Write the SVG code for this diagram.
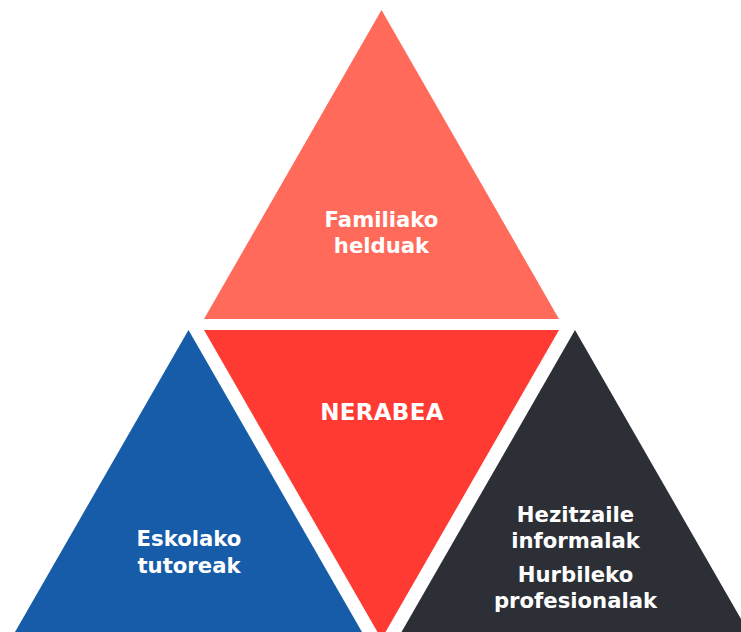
<svg xmlns="http://www.w3.org/2000/svg" width="741" height="632" viewBox="0 0 741 632">
<style>
.lbl{font-family:"DejaVu Sans",sans-serif;font-weight:bold;font-size:21.2px;fill:#ffffff;text-anchor:middle}
.big{font-size:23px;letter-spacing:0.3px}
</style>
<rect width="741" height="632" fill="#ffffff"/>
<g id="node-top">
<polygon points="381.5,10 559,319 204,319" fill="#ff6a5b"/>
<text class="lbl" x="381.5" y="226.7">Familiako</text>
<text class="lbl" x="381.5" y="253.3">helduak</text>
</g>
<g id="node-center">
<polygon points="204,330 559,330 381.5,639" fill="#ff3a32"/>
<text class="lbl big" x="382" y="420">NERABEA</text>
</g>
<g id="node-left">
<polygon points="188.5,330 366,639 11,639" fill="#175ca8"/>
<text class="lbl" x="189" y="546">Eskolako</text>
<text class="lbl" x="189" y="573.3">tutoreak</text>
</g>
<g id="node-right">
<polygon points="575,330 752.5,639 397.5,639" fill="#2c2f36"/>
<text class="lbl" x="575.5" y="521.7">Hezitzaile</text>
<text class="lbl" x="575.5" y="548.3">informalak</text>
<text class="lbl" x="575.5" y="582.3">Hurbileko</text>
<text class="lbl" x="575.5" y="608.3">profesionalak</text>
</g>
<g id="connectors"></g>
</svg>
